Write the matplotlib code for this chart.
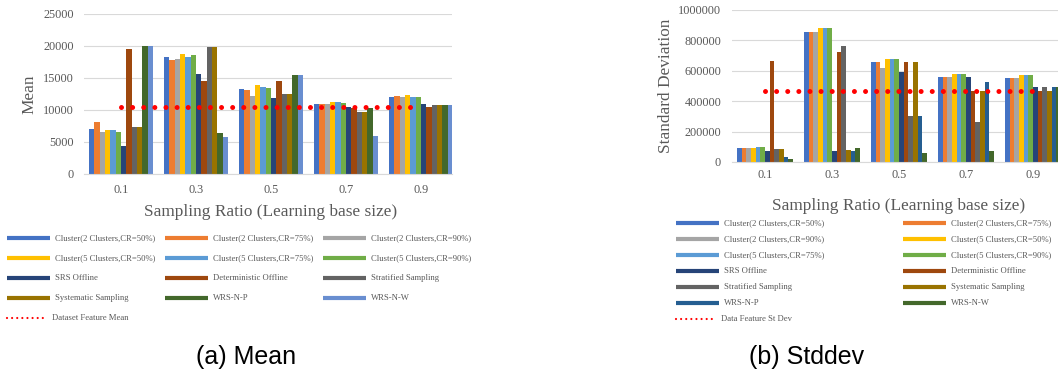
import matplotlib
matplotlib.use("Agg")
import matplotlib.pyplot as plt
from matplotlib.lines import Line2D
import numpy as np

# ---------------- data ----------------
ratios = ["0.1", "0.3", "0.5", "0.7", "0.9"]

cluster_2_50 = "Cluster(2 Clusters,CR=50%)"
cluster_2_75 = "Cluster(2 Clusters,CR=75%)"
cluster_2_90 = "Cluster(2 Clusters,CR=90%)"
cluster_5_50 = "Cluster(5 Clusters,CR=50%)"
cluster_5_75 = "Cluster(5 Clusters,CR=75%)"
cluster_5_90 = "Cluster(5 Clusters,CR=90%)"
methods = [cluster_2_50, cluster_2_75, cluster_2_90, cluster_5_50, cluster_5_75,
           cluster_5_90, "SRS Offline", "Deterministic Offline", "Stratified Sampling",
           "Systematic Sampling", "WRS-N-P", "WRS-N-W"]

# mean of the sampled feature, one list per method (ratios 0.1 .. 0.9)
mean_c2_50 = [7000, 18300, 13300, 11000, 12000]
mean_c2_75 = [8100, 17800, 13100, 11000, 12200]
mean_c2_90 = [6600, 17900, 12200, 11000, 12100]
mean_c5_50 = [6800, 18700, 13900, 11300, 12300]
mean_c5_75 = [6900, 18300, 13600, 11300, 12100]
mean_c5_90 = [6500, 18600, 13500, 11100, 12000]
mean_srs = [4400, 15700, 11900, 10500, 10900]
mean_det = [19600, 14500, 14600, 10300, 10400]
mean_strat = [7300, 19900, 12500, 9700, 10800]
mean_syst = [7300, 19900, 12500, 9700, 10800]
mean_wrs_p = [20000, 6400, 15500, 10300, 10800]
mean_wrs_w = [20000, 5800, 15500, 6000, 10800]
dataset_mean = 10400

# standard deviation of the sampled feature
std_c2_50 = [95000, 855000, 660000, 560000, 553000]
std_c2_75 = [95000, 855000, 660000, 560000, 553000]
std_c2_90 = [93000, 855000, 620000, 560000, 553000]
std_c5_50 = [95000, 880000, 680000, 578000, 570000]
std_c5_75 = [97000, 880000, 680000, 578000, 570000]
std_c5_90 = [97000, 880000, 680000, 578000, 570000]
std_srs = [72000, 75000, 595000, 560000, 495000]
std_det = [665000, 725000, 660000, 470000, 470000]
std_strat = [85000, 765000, 305000, 260000, 495000]
std_syst = [85000, 78000, 660000, 470000, 470000]
std_wrs_p = [32000, 75000, 305000, 525000, 495000]
std_wrs_w = [22000, 90000, 58000, 72000, 495000]
dataset_std = 470000

mean_series = [mean_c2_50, mean_c2_75, mean_c2_90, mean_c5_50, mean_c5_75, mean_c5_90,
               mean_srs, mean_det, mean_strat, mean_syst, mean_wrs_p, mean_wrs_w]
std_series = [std_c2_50, std_c2_75, std_c2_90, std_c5_50, std_c5_75, std_c5_90,
              std_srs, std_det, std_strat, std_syst, std_wrs_p, std_wrs_w]

base_colors = ["#4472C4", "#ED7D31", "#A5A5A5", "#FFC000", "#5B9BD5", "#70AD47",
               "#264478", "#9E480E", "#636363", "#997300"]
mean_colors = base_colors + ["#43682B", "#698ED0"]
std_colors = base_colors + ["#255E91", "#43682B"]

mean_ticks = [0, 5000, 10000, 15000, 20000, 25000]
std_ticks = [0, 200000, 400000, 600000, 800000, 1000000]

# ---------------- style ----------------
W, H = 1058, 376
SERIF = "Liberation Serif"
GREY_TXT = "#595959"
GRID = "#D9D9D9"
RED = "#FF0000"

fig = plt.figure(figsize=(W / 100, H / 100), dpi=100)


def fx(px):
    return px / W


def fy(py):
    return 1 - py / H


def bar_panel(left, right, top, bottom, spacing, group_frac, series, colors,
              ref_value, ticks, ylabel, ylabel_xy, xlabel_xy, ytick_pad, xtick_pad):
    ax = fig.add_axes([fx(left), fy(bottom), fx(right - left), (bottom - top) / H])
    n = len(series)
    w = group_frac / n
    x = np.arange(len(ratios))
    for j, (vals, c) in enumerate(zip(series, colors)):
        ax.bar(x + (j - (n - 1) / 2) * w, vals, width=w, color=c, linewidth=0, zorder=2)
    lw = 3.6
    ax.plot(x, [ref_value] * len(x), color=RED, lw=lw, linestyle=(0, (0.001, 8.0 / lw)),
            dash_capstyle="round", zorder=3)
    ax.set_xlim(-0.5, -0.5 + (right - left) / spacing)
    ax.set_ylim(ticks[0], ticks[-1])
    ax.set_yticks(ticks)
    ax.set_yticklabels([str(t) for t in ticks])
    ax.set_xticks(x)
    ax.set_xticklabels(ratios)
    ax.tick_params(length=0, labelsize=8.8, labelcolor=GREY_TXT)
    ax.tick_params(axis="y", pad=ytick_pad)
    ax.tick_params(axis="x", pad=xtick_pad)
    for lab in ax.get_xticklabels() + ax.get_yticklabels():
        lab.set_fontfamily(SERIF)
    for s in ["top", "right", "left"]:
        ax.spines[s].set_visible(False)
    ax.spines["bottom"].set_color(GRID)
    ax.spines["bottom"].set_linewidth(0.8)
    ax.yaxis.grid(True, color=GRID, lw=0.8, zorder=0)
    ax.set_axisbelow(True)
    ax.set_xlabel("Sampling Ratio (Learning base size)", fontsize=12.4,
                  family=SERIF, color=GREY_TXT)
    ax.set_ylabel(ylabel, fontsize=12.4, family=SERIF, color=GREY_TXT)
    ax.xaxis.set_label_coords(fx(xlabel_xy[0]), fy(xlabel_xy[1]), transform=fig.transFigure)
    ax.yaxis.set_label_coords(fx(ylabel_xy[0]), fy(ylabel_xy[1]), transform=fig.transFigure)
    ax.xaxis.label.set_va("center")
    ax.yaxis.label.set_va("center")
    ax.yaxis.label.set_rotation_mode("anchor")
    return ax


def legend_key(x0, x1, y, color, label, dotted=False):
    if dotted:
        line = Line2D([fx(x0), fx(x1)], [fy(y), fy(y)], transform=fig.transFigure,
                      color=color, lw=1.6, linestyle=(0, (0.001, 2.3)),
                      dash_capstyle="round")
    else:
        line = Line2D([fx(x0), fx(x1)], [fy(y), fy(y)], transform=fig.transFigure,
                      color=color, lw=3.0, solid_capstyle="butt")
    fig.add_artist(line)
    fig.text(fx(x1 + 5), fy(y), label, fontsize=6.2, family=SERIF, color=GREY_TXT,
             ha="left", va="center")


# ---------------- (a) mean ----------------
bar_panel(83.5, 452, 14, 174, 75, 0.85, mean_series, mean_colors, dataset_mean,
          mean_ticks, "Mean", (29, 94), (271, 212), 6.8, 7.0)

cols_a = [7, 165, 323]
rows_a = [238, 258, 278, 298, 318]
for k, (lab, c) in enumerate(zip(methods, mean_colors)):
    r, cidx = divmod(k, 3)
    legend_key(cols_a[cidx], cols_a[cidx] + 43, rows_a[r], c, lab)
legend_key(cols_a[0], cols_a[0] + 40, rows_a[4], RED, "Dataset Feature Mean", dotted=True)

# ---------------- (b) stddev ----------------
bar_panel(731.5, 1058, 10, 162, 67, 0.835, std_series, std_colors, dataset_std,
          std_ticks, "Standard Deviation", (666, 86), (899, 206), 7.5, 5.0)

cols_b = [676, 903]
rows_b = [223 + 16 * i for i in range(7)]
for k, (lab, c) in enumerate(zip(methods, std_colors)):
    r, cidx = divmod(k, 2)
    legend_key(cols_b[cidx], cols_b[cidx] + 43, rows_b[r], c, lab)
legend_key(cols_b[0], cols_b[0] + 40, rows_b[6], RED, "Data Feature St Dev", dotted=True)

# ---------------- captions ----------------
fig.text(fx(246), fy(357), "(a) Mean", fontsize=18, family="Liberation Sans",
         ha="center", va="center", color="black")
fig.text(fx(807), fy(357), "(b) Stddev", fontsize=18, family="Liberation Sans",
         ha="center", va="center", color="black")

fig.savefig("out.png", dpi=100, facecolor="white")
